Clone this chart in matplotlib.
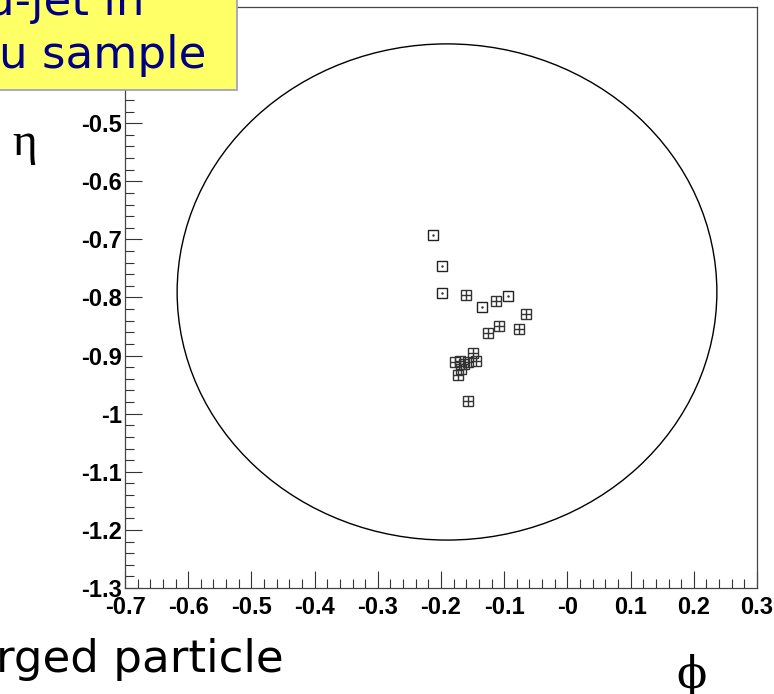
import matplotlib
matplotlib.use("Agg")
import matplotlib.pyplot as plt
from matplotlib.patches import Ellipse, Rectangle
from matplotlib.ticker import MultipleLocator, FixedLocator

# ---- data ----
open_phi = [-0.212, -0.198, -0.198, -0.094, -0.135]
open_eta = [-0.692, -0.746, -0.792, -0.797, -0.816]
box_phi = [-0.160, -0.113, -0.066, -0.108, -0.076, -0.126, -0.150, -0.178,
           -0.170, -0.157, -0.145, -0.164, -0.168, -0.173, -0.158]
box_eta = [-0.795, -0.806, -0.828, -0.849, -0.855, -0.861, -0.896, -0.911,
           -0.909, -0.911, -0.909, -0.915, -0.923, -0.934, -0.979]
cone_center = (-0.1905, -0.7905)
cone_radius = 0.427
x_ticks = [-0.7, -0.6, -0.5, -0.4, -0.3, -0.2, -0.1, 0.0, 0.1, 0.2, 0.3]
x_ticklabels = ["-0.7", "-0.6", "-0.5", "-0.4", "-0.3", "-0.2", "-0.1", "-0", "0.1", "0.2", "0.3"]
y_ticks = [-1.3, -1.2, -1.1, -1.0, -0.9, -0.8, -0.7, -0.6, -0.5, -0.4, -0.3]
y_ticklabels = ["-1.3", "-1.2", "-1.1", "-1", "-0.9", "-0.8", "-0.7", "-0.6", "-0.5", "-0.4", "-0.3"]

W, H = 774, 694
fig = plt.figure(figsize=(W / 100, H / 100), dpi=100)
fig.patch.set_facecolor("white")

L, R, T, B = 125, 757, 7, 588
ax = fig.add_axes([L / W, 1 - B / H, (R - L) / W, (B - T) / H])
ax.set_xlim(-0.7, 0.3)
ax.set_ylim(-1.3, -0.3)

# cone circle
ax.add_patch(Ellipse(cone_center, 2 * cone_radius, 2 * cone_radius,
                     fill=False, edgecolor="black", lw=1.0))

ms = 7.4
# open squares with a dot
ax.plot(open_phi, open_eta, ls="none", marker="s", ms=ms, mfc="none",
        mec="#222222", mew=1.0)
ax.plot(open_phi, open_eta, ls="none", marker=".", ms=1.5, color="#333333")
# boxed plus markers
ax.plot(box_phi, box_eta, ls="none", marker="s", ms=ms, mfc="none",
        mec="#333333", mew=1.0)
ax.plot(box_phi, box_eta, ls="none", marker="+", ms=ms, mec="#333333", mew=1.0)

# ticks
ax.xaxis.set_major_locator(FixedLocator(x_ticks))
ax.yaxis.set_major_locator(FixedLocator(y_ticks))
ax.set_xticklabels(x_ticklabels)
ax.set_yticklabels(y_ticklabels)
ax.xaxis.set_minor_locator(MultipleLocator(0.02))
ax.yaxis.set_minor_locator(MultipleLocator(0.02))
ax.tick_params(which="both", direction="in", top=False, right=False,
               width=0.8, color="#333333")
ax.tick_params(which="major", length=12.5)
ax.tick_params(which="minor", length=6.2)
ax.tick_params(axis="x", which="major", pad=6)
ax.tick_params(axis="y", which="major", pad=2)
for lab in ax.get_xticklabels() + ax.get_yticklabels():
    lab.set_fontfamily("Liberation Sans")
    lab.set_fontweight("bold")
    lab.set_fontsize(17)
for sp in ax.spines.values():
    sp.set_color("#444444")
    sp.set_linewidth(0.9)

def px(x, y):
    return x / W, 1 - y / H

# yellow title box (cropped from a slide)
x0, y0 = px(-5, 90)
x1, y1 = px(237, -5)
fig.add_artist(Rectangle((x0, y0), x1 - x0, y1 - y0, transform=fig.transFigure,
                         facecolor="#ffff66", edgecolor="#9a9ac8", lw=1.2,
                         zorder=5))
navy = "#000080"
fig.text(*px(-14, 15), "u-jet in", color=navy, fontsize=32.5,
         family="DejaVu Sans", va="baseline", ha="left", zorder=6)
fig.text(*px(-1, 68), "u sample", color=navy, fontsize=32.5,
         family="DejaVu Sans", va="baseline", ha="left", zorder=6)

# axis symbols
fig.text(*px(12, 155), "η", fontsize=34, family="Liberation Serif",
         va="baseline", ha="left", color="black")
fig.text(*px(692, 688), "ϕ", fontsize=32, family="DejaVu Serif",
         va="baseline", ha="center", color="black")

# slide text at bottom left
fig.text(*px(-4, 672), "rged particle", fontsize=32.5, family="DejaVu Sans",
         va="baseline", ha="left", color="black")

fig.savefig("out.png", dpi=100)
